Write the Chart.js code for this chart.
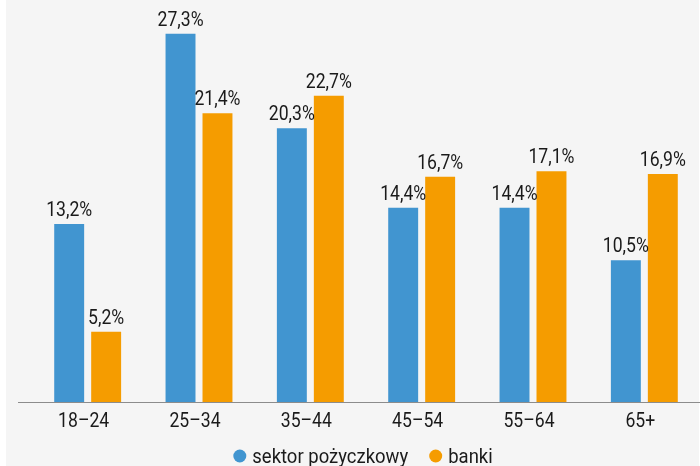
<!DOCTYPE html>
<html>
<head>
<meta charset="utf-8">
<script src="https://cdn.jsdelivr.net/npm/chart.js@4.4.1/dist/chart.umd.min.js"></script>
<style>
  html, body { margin: 0; padding: 0; background: #ffffff; }
  #wrap { position: relative; width: 700px; height: 466px; }
  canvas { display: block; }
</style>
</head>
<body>
<div id="wrap"><canvas id="chart" width="700" height="466"></canvas></div>
<script>
// Age groups and shares (%) per lender type
const categories = ['18–24', '25–34', '35–44', '45–54', '55–64', '65+'];
const seriesNames = ['sektor pożyczkowy', 'banki'];
const sektorPozyczkowy = [13.2, 27.3, 20.3, 14.4, 14.4, 10.5];
const banki = [5.2, 21.4, 22.7, 16.7, 17.1, 16.9];

const BLUE = '#4195d0';
const ORANGE = '#f59c00';
const TEXT = '#1a1a1a';
const FONT = 'Roboto, sans-serif';
const NARROW = 0.88; // horizontal squeeze for a condensed look

// Draw text narrowed horizontally around its anchor
function narrowText(ctx, txt, x, y, align) {
  ctx.save();
  ctx.translate(x, y);
  ctx.scale(NARROW, 1);
  ctx.textAlign = align;
  ctx.fillText(txt, 0, 0);
  ctx.restore();
}

// Light grey panel behind the plot
const panel = {
  id: 'panel',
  beforeDraw(chart) {
    const ctx = chart.ctx;
    ctx.save();
    ctx.fillStyle = '#f5f5f5';
    ctx.fillRect(6, 0, chart.width - 7, chart.height);
    ctx.restore();
  }
};

// Baseline, category labels and legend
const axisAndLegend = {
  id: 'axisAndLegend',
  afterDatasetsDraw(chart) {
    const ctx = chart.ctx;
    const xs = chart.scales.x;
    const y0 = Math.round(chart.scales.y.getPixelForValue(0)) + 0.5;
    ctx.save();
    ctx.strokeStyle = '#8c8c8c';
    ctx.lineWidth = 1;
    ctx.beginPath();
    ctx.moveTo(18, y0);
    ctx.lineTo(chart.width, y0);
    ctx.stroke();

    // category labels
    ctx.fillStyle = TEXT;
    ctx.font = '20px ' + FONT;
    ctx.textBaseline = 'alphabetic';
    categories.forEach((c, i) => {
      narrowText(ctx, c, xs.getPixelForTick(i) - 4, y0 + 24, 'center');
    });

    // legend
    ctx.font = '21px ' + FONT;
    const colors = [BLUE, ORANGE];
    const r = 6.5, gapText = 6, gapItem = 21;
    const widths = seriesNames.map(n => ctx.measureText(n).width * NARROW);
    const total = widths.reduce((a, w) => a + 2 * r + gapText + w, 0) + gapItem;
    const cx = (chart.chartArea.left + chart.chartArea.right) / 2 - 3;
    let x = cx - total / 2;
    const ly = 456;
    seriesNames.forEach((n, i) => {
      ctx.fillStyle = colors[i];
      ctx.beginPath();
      ctx.arc(x + r, ly, r, 0, Math.PI * 2);
      ctx.fill();
      x += 2 * r + gapText;
      ctx.fillStyle = TEXT;
      narrowText(ctx, n, x, ly + 7, 'left');
      x += widths[i] + gapItem;
    });
    ctx.restore();
  }
};

// Value labels above each bar, formatted with a decimal comma
const valueLabels = {
  id: 'valueLabels',
  afterDatasetsDraw(chart) {
    const ctx = chart.ctx;
    ctx.save();
    ctx.font = '20px ' + FONT;
    ctx.fillStyle = TEXT;
    ctx.textBaseline = 'alphabetic';
    chart.data.datasets.forEach((ds, di) => {
      chart.getDatasetMeta(di).data.forEach((bar, i) => {
        const txt = ds.data[i].toFixed(1).replace('.', ',') + '%';
        narrowText(ctx, txt, bar.x, bar.y - 8, 'center');
      });
    });
    ctx.restore();
  }
};

new Chart(document.getElementById('chart'), {
  type: 'bar',
  data: {
    labels: categories,
    datasets: [
      { label: seriesNames[0], data: sektorPozyczkowy, backgroundColor: BLUE },
      { label: seriesNames[1], data: banki, backgroundColor: ORANGE }
    ]
  },
  options: {
    responsive: false,
    animation: false,
    layout: { padding: { left: 32, right: 0, top: 0, bottom: 64 } },
    datasets: {
      bar: { categoryPercentage: 0.664, barPercentage: 0.81 }
    },
    scales: {
      x: {
        grid: { display: false, drawTicks: false },
        border: { display: false },
        ticks: { display: false }
      },
      y: {
        display: false,
        min: 0,
        max: 29.8
      }
    },
    plugins: {
      legend: { display: false },
      tooltip: { enabled: false }
    }
  },
  plugins: [panel, axisAndLegend, valueLabels]
});
</script>
</body>
</html>
